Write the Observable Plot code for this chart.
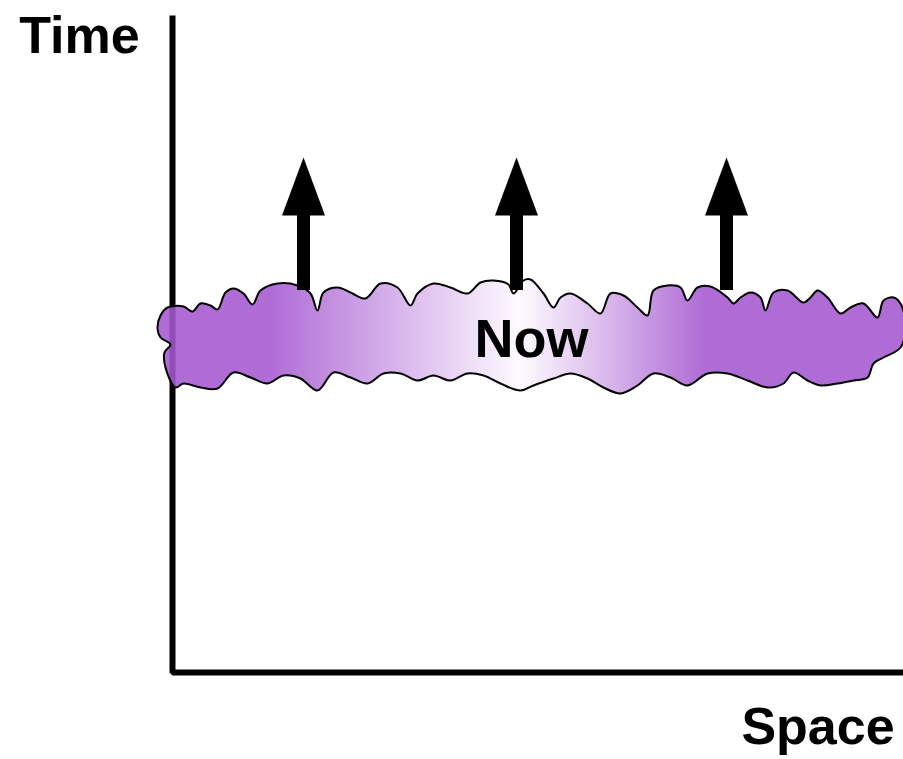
<!DOCTYPE html>
<html><head><meta charset="utf-8">
<script src="https://cdn.jsdelivr.net/npm/d3@7"></script>
<script src="https://cdn.jsdelivr.net/npm/@observablehq/plot@0.6"></script>
<style>body{margin:0;background:#fff}</style>
</head><body><div id="chart"></div>
<script>
// "Now" band outline (space units, time units), clockwise from lower-left
const bandX = [0.3,-0.7,-0.8,-0.2,-1.2,-1.5,-1.2,-0.5,
  1.1,2.0,2.8,3.8,4.5,5.3,6.1,7.1,8.0,8.8,10.5,12.5,13.8,14.5,15.1,16.5,17.8,19.3,20.8,22.5,23.8,24.5,26.1,27.8,29.5,30.8,32.1,33.6,34.1,35.1,35.8,
  37.1,38.1,38.8,39.8,41.5,42.8,43.8,45.1,46.5,47.5,48.1,49.5,50.8,51.5,52.5,53.8,55.5,56.1,56.8,57.8,58.8,59.3,60.1,61.5,63.1,63.8,64.5,65.5,66.8,67.8,69.1,70.5,71.1,72.1,72.8,
  73.3,72.8,71.1,70.1,69.5,
  68.1,66.5,64.8,63.5,62.1,61.1,59.5,57.5,55.5,53.5,51.5,49.8,48.1,46.5,44.8,43.1,41.5,39.8,38.1,36.1,34.8,32.8,31.1,29.5,27.8,26.1,24.5,22.8,21.1,19.5,17.8,16.1,14.5,12.8,11.1,9.5,7.8,6.1,4.5,2.8,1.1];
const bandY = [28.5,30.5,32.0,32.8,33.5,34.4,35.7,36.5,
  36.6,36.1,36.9,36.7,36.3,38.0,38.4,37.9,36.8,38.2,38.9,38.7,37.9,36.2,38.0,38.5,38.0,37.4,38.9,38.5,36.7,37.9,38.9,38.5,37.9,39.0,39.2,38.8,37.9,39.2,39.3,
  37.9,36.5,37.5,37.9,36.9,35.9,37.9,37.7,36.5,35.7,38.2,38.7,38.5,37.2,38.5,38.6,37.5,36.9,37.5,38.0,37.5,36.2,38.0,38.2,37.0,37.5,38.2,37.5,35.9,36.5,36.9,35.5,37.2,37.5,36.9,
  34.7,32.5,31.5,30.9,29.5,
  29.2,28.9,28.7,29.2,30.0,28.9,28.5,29.2,29.9,29.9,28.7,29.5,29.9,28.7,27.9,28.5,29.4,29.9,29.4,28.7,28.2,28.9,29.7,29.9,29.2,29.7,29.2,29.9,29.9,28.9,29.5,30.0,28.2,29.4,29.7,28.9,29.5,30.0,28.4,28.5,28.9];

// axes polyline
const axisX = [0, 0, 73.1];
const axisY = [65.7, 0, 0];

// arrows
const arrowX = [13.1, 34.4, 55.4];
const arrowBase = [38.2, 38.2, 38.2];
const arrowHead = [45.7, 45.7, 45.7];

// labels
const labels = ["Time", "Space", "Now"];
const labelX = [-9.3, 64.55, 35.9];
const labelY = [63.6, -5.5, 33.3];
const labelSize = [52, 52, 54];

// gradient
const gradOffset = [0, 0.15, 0.485, 0.73, 1];
const gradColor = ["#a558d0", "#a558d0", "#fdfaff", "#a558d0", "#a558d0"];

const band = bandX.map((x, i) => ({x, y: bandY[i]}));
const axis = axisX.map((x, i) => ({x, y: axisY[i]}));
const arrows = arrowX.map((x, i) => ({x, y1: arrowBase[i], y2: arrowHead[i]}));
const texts = labels.map((t, i) => ({t, x: labelX[i], y: labelY[i], s: labelSize[i]}));

const headSymbol = {
  draw(context) {
    context.moveTo(-21.5, 0);
    context.lineTo(0, -58);
    context.lineTo(21.5, 0);
    context.closePath();
  }
};

const plot = Plot.plot({
  width: 903,
  height: 759,
  marginLeft: 172,
  marginRight: 0,
  marginTop: 15,
  marginBottom: 87,
  x: {domain: [0, 73.1], axis: null},
  y: {domain: [0, 65.7], axis: null},
  style: {background: "white", overflow: "visible"},
  marks: [
    () => {
      const defs = d3.create("svg:defs");
      const g = defs.append("linearGradient").attr("id", "nowGrad")
        .attr("x1", "0").attr("x2", "1").attr("y1", "0").attr("y2", "0");
      gradOffset.forEach((o, i) => g.append("stop").attr("offset", o).attr("stop-color", gradColor[i]));
      return defs.node();
    },
    Plot.line(axis, {x: "x", y: "y", stroke: "black", strokeWidth: 6, strokeLinejoin: "miter", strokeLinecap: "butt"}),
    Plot.line(band, {x: "x", y: "y", curve: "catmull-rom-closed", fill: "url(#nowGrad)", fillOpacity: 0.88, stroke: "black", strokeWidth: 2}),
    Plot.ruleX(arrows, {x: "x", y1: "y1", y2: "y2", stroke: "black", strokeWidth: 13}),
    Plot.dot(arrows, {x: "x", y: "y2", symbol: headSymbol, fill: "black", stroke: "none"}),
    ...texts.map(d => Plot.text([d], {x: "x", y: "y", text: "t", fontSize: d.s, fontWeight: "bold", fontFamily: "Liberation Sans, Arial, sans-serif", fill: "black", textAnchor: "middle"}))
  ]
});
document.getElementById("chart").appendChild(plot);
</script>
</body></html>
